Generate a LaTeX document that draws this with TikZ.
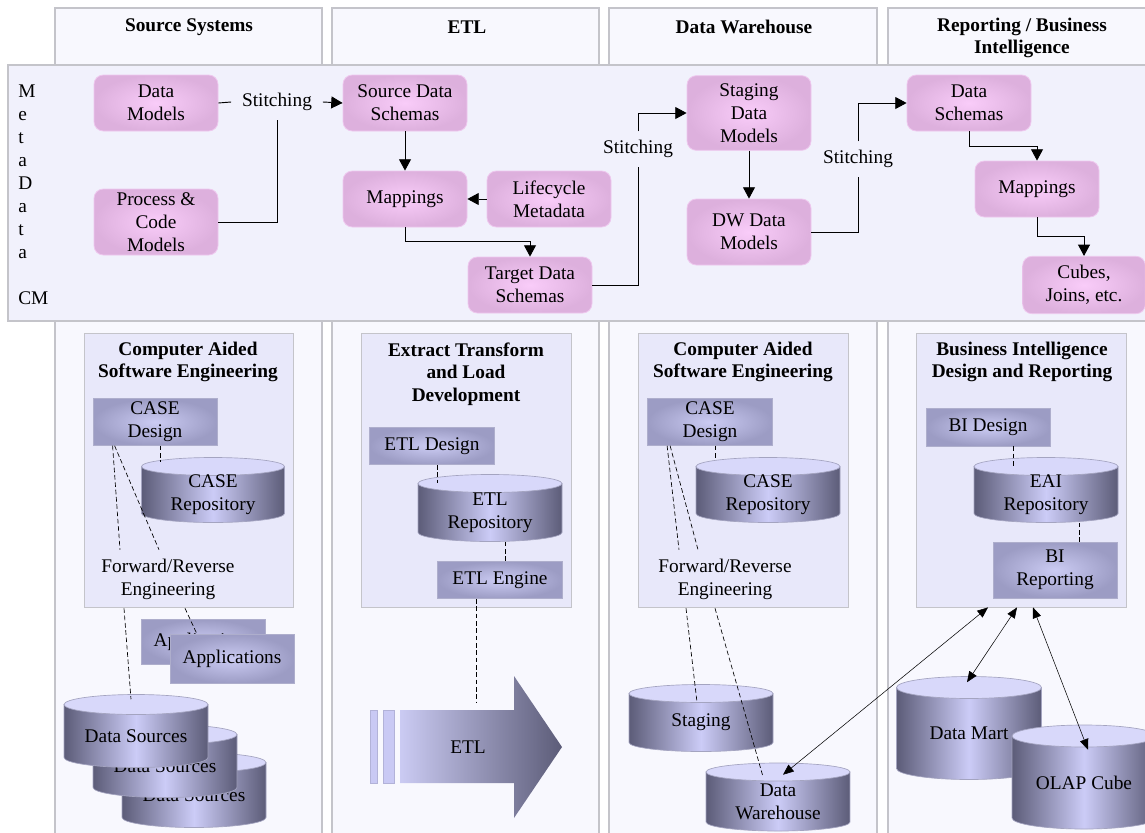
\documentclass[tikz,border=0pt]{standalone}
\usepackage{fontspec}
\setmainfont{Liberation Serif}
\usetikzlibrary{arrows.meta,calc}

\definecolor{colfill}{HTML}{F8F8FE}
\definecolor{framegray}{HTML}{C4C4CA}
\definecolor{bandfill}{HTML}{F1F1FC}
\definecolor{innerfill}{HTML}{E8E8FA}
\definecolor{pinkin}{HTML}{F9CCF9}
\definecolor{pinkout}{HTML}{DDB0DD}
\definecolor{pinkedge}{HTML}{EEC8EE}
\definecolor{toolin}{HTML}{CBCBF3}
\definecolor{toolout}{HTML}{9C9CC4}
\definecolor{tooledge}{HTML}{AEAECC}
\definecolor{cyldark}{HTML}{5C5C78}
\definecolor{cyllight}{HTML}{CCCCF7}
\definecolor{cyltop}{HTML}{D8D8FA}
\definecolor{cylline}{HTML}{A4A4C0}
\definecolor{barfill}{HTML}{C9C9F4}
\definecolor{baredge}{HTML}{B2B2D8}

\tikzset{
  colframe/.style={draw=framegray, fill=colfill, line width=0.8pt},
  bandframe/.style={draw=framegray, fill=bandfill, line width=0.8pt},
  innerframe/.style={draw=framegray, fill=innerfill, line width=0.6pt},
  colhead/.style={font=\fontsize{14.5}{17}\selectfont\bfseries, align=center, inner sep=0pt},
  metabox/.style={rounded corners=7pt, inner color=pinkin, outer color=pinkout, draw=pinkedge, line width=0.6pt, align=center, inner sep=0pt},
  toolbox/.style={inner color=toolin, outer color=toolout, draw=tooledge, line width=0.6pt, align=center, inner sep=0pt},
  txt/.style={align=center, inner sep=0pt},
  stitchlabel/.style={fill=bandfill, inner xsep=8pt, inner ysep=6.5pt, text height=10pt, text depth=3pt},
  flowarrow/.style={draw=black, line width=0.7pt, -{Triangle[length=8.5pt,width=9pt]}},
  flowline/.style={draw=black, line width=0.7pt},
  dashlink/.style={draw=black, line width=0.5pt, dash pattern=on 3.5pt off 2pt},
  biarrow/.style={draw=black, line width=0.4pt, {Triangle[length=8pt,width=6.5pt]}-{Triangle[length=8pt,width=6.5pt]}},
  barbox/.style={fill=barfill, draw=baredge, line width=0.5pt},
}

% database drum: name, centre x, centre y, width, height, cap radius, text
\newcommand\dbcyl[7]{%
  \path[left color=cyldark, right color=cyldark, middle color=cyllight, draw=cylline, line width=0.5pt]
    (#2-#4/2, #3-#5/2+#6) -- (#2-#4/2, #3+#5/2-#6)
    arc[start angle=180, end angle=0, x radius=#4/2, y radius=#6]
    -- (#2+#4/2, #3-#5/2+#6) -- cycle;
  \path[fill=cyltop, draw=cylline, line width=0.5pt]
    (#2, #3-#5/2+#6) ellipse[x radius=#4/2, y radius=#6];
  \node[minimum width={#4*0.75pt}, minimum height={#5*0.75pt}, inner sep=0pt] (#1) at (#2,#3) {};
  \node[txt] (#1-text) at (#2, #3+#6/2) {#7};
}

\begin{document}
\begin{tikzpicture}[x=0.75pt, y=-0.75pt, font=\fontsize{14.5}{17.25}\selectfont]
\useasboundingbox (0,0) rectangle (1145,832);
\clip (0,0) rectangle (1145,832);

% swimlane columns
\path[colframe] (55,8) rectangle (322,850);
\path[colframe] (332,8) rectangle (599,850);
\path[colframe] (609,8) rectangle (877,850);
\path[colframe] (888,8) rectangle (1160,850);

\node[colhead] (h1) at (189,27) {Source Systems};
\node[colhead] (h2) at (467,27) {ETL};
\node[colhead] (h3) at (744,27) {Data Warehouse};
\node[colhead] (h4) at (1022,38) {Reporting / Business\\Intelligence};

% metadata band
\path[bandframe] (8,65) rectangle (1160,321);
\node[anchor=west, align=left, inner sep=0pt] (mdcm) at (18,195) {M\\e\\t\\a\\D\\a\\t\\a\\[17.25pt]CM};

% metadata objects
\node[metabox, minimum width=93pt, minimum height=42pt] (dmod) at (156,103) {Data\\Models};
\node[metabox, minimum width=93pt, minimum height=49.5pt] (pcm) at (156,222) {Process \&\\Code\\Models};
\node[metabox, minimum width=93pt, minimum height=42pt] (sds) at (405,103) {Source Data\\Schemas};
\node[metabox, minimum width=93pt, minimum height=42pt] (map1) at (405,199) {Mappings};
\node[metabox, minimum width=93pt, minimum height=42pt] (lcm) at (549,199) {Lifecycle\\Metadata};
\node[metabox, minimum width=93pt, minimum height=42pt] (tds) at (530,285) {Target Data\\Schemas};
\node[metabox, minimum width=93pt, minimum height=56pt] (sdm) at (749,113) {Staging\\Data\\Models};
\node[metabox, minimum width=93pt, minimum height=49.5pt] (dwm) at (749,232) {DW Data\\Models};
\node[metabox, minimum width=93pt, minimum height=42pt] (dsch) at (969,103) {Data\\Schemas};
\node[metabox, minimum width=93pt, minimum height=42pt] (map2) at (1037,189) {Mappings};
\node[metabox, minimum width=92pt, minimum height=43pt] (cub) at (1084,285) {Cubes,\\Joins, etc.};

% stitching labels
\node[stitchlabel] (st1) at (277,102) {Stitching};
\node[stitchlabel] (st2) at (638,149) {Stitching};
\node[stitchlabel] (st3) at (858,159) {Stitching};

% metadata flow
\draw[flowline] (dmod.east) -- (st1.west);
\draw[flowarrow] (st1.east) -- (sds.west);
\draw[flowline] (pcm.east) -| (st1.south);
\draw[flowarrow] (sds.south) -- (map1.north);
\draw[flowarrow] (lcm.west) -- (map1.east);
\draw[flowarrow] (map1.south) -- ++(0,14) -| (tds.north);
\draw[flowline] (tds.east) -| (st2.south);
\draw[flowarrow] (st2.north) |- (sdm.west);
\draw[flowarrow] (sdm.south) -- (dwm.north);
\draw[flowline] (dwm.east) -| (st3.south);
\draw[flowarrow] (st3.north) |- (dsch.west);
\draw[flowarrow] (dsch.south) -- ++(0,15) -| (map2.north);
\draw[flowarrow] (map2.south) -- ++(0,19) -| (cub.north);

% tool frames
\path[innerframe] (84,333) rectangle (293,607);
\path[innerframe] (361,333) rectangle (571,607);
\path[innerframe] (638,333) rectangle (848,607);
\path[innerframe] (916,333) rectangle (1126,607);

\node[colhead] (t1) at (188,362) {Computer Aided\\Software Engineering};
\node[colhead] (t2) at (466,374) {Extract Transform\\and Load\\Development};
\node[colhead] (t3) at (743,362) {Computer Aided\\Software Engineering};
\node[colhead] (t4) at (1022,362) {Business Intelligence\\Design and Reporting};

% source systems
\node[toolbox, minimum width=93pt, minimum height=35pt] (cd1) at (155,422) {CASE\\Design};
\dbcyl{repo1}{213}{490}{143}{65}{9}{CASE\\Repository}
\node[txt, minimum width=100pt, minimum height=43.5pt] (fr1) at (168,579) {Forward/Reverse\\Engineering};
\node[toolbox, minimum width=93pt, minimum height=34pt] (app1) at (203,642) {Applications};
\node[toolbox, minimum width=93pt, minimum height=36.75pt] (app2) at (232,659) {Applications};
\dbcyl{ds3}{194}{790}{144}{75}{10}{Data Sources}
\dbcyl{ds2}{165}{761}{144}{73}{10}{Data Sources}
\dbcyl{ds1}{136}{731}{144}{73}{10}{Data Sources}

\draw[dashlink] ($(cd1.south)+(5,0)$) -- ($(repo1.north)+(-53,5)$);
\draw[dashlink] ($(cd1.south west)+(20,0)$) -- ($(fr1.north)+(-48,0)$);
\draw[dashlink] ($(cd1.south west)+(22,0)$) -- ($(fr1.north)+(-9,0)$);
\draw[dashlink] ($(fr1.south)+(-44,0)$) -- ($(ds1.north)+(-5,5)$);
\draw[dashlink] ($(fr1.south)+(17,0)$) -- ($(app2.north)+(-35,0)$);

% ETL
\node[toolbox, minimum width=93.75pt, minimum height=28pt] (etd) at (432,446) {ETL Design};
\dbcyl{etlr}{490}{508}{144}{67}{9}{ETL\\Repository}
\node[toolbox, minimum width=93.75pt, minimum height=28pt] (ete) at (500,580) {ETL Engine};
\path[barbox] (370,710) rectangle (377,783);
\path[barbox] (383,710) rectangle (394,783);
\shade[left color=toolin, right color=cyldark]
  (400,710) -- (514,710) -- (514,676) -- (562,747) -- (514,818) -- (514,783) -- (400,783) -- cycle;
\node[txt] (etlarrow) at (468,747) {ETL};
\coordinate (etltop) at (476,703);

\draw[dashlink] ($(etd.south)+(5,0)$) -- ($(etlr.north)+(-53,9)$);
\draw[dashlink] ($(etlr.south)+(15,0)$) -- ($(ete.north)+(5,0)$);
\draw[dashlink] ($(ete.south)+(-24,0)$) -- (etltop);

% data warehouse
\node[toolbox, minimum width=93.75pt, minimum height=35pt] (cd3) at (710,422) {CASE\\Design};
\dbcyl{repo3}{768}{490}{144}{65}{9}{CASE\\Repository}
\node[txt, minimum width=100pt, minimum height=43.5pt] (fr3) at (725,579) {Forward/Reverse\\Engineering};
\dbcyl{stg}{701}{718}{144}{67}{9}{Staging}
\dbcyl{dw}{778}{797}{144}{68}{9}{Data\\Warehouse}

\draw[dashlink] ($(cd3.south)+(5,0)$) -- ($(repo3.north)+(-53,2)$);
\draw[dashlink] ($(cd3.south west)+(20,0)$) -- ($(fr3.north)+(-46,0)$);
\draw[dashlink] ($(cd3.south west)+(23,0)$) -- ($(fr3.north)+(-27,0)$);
\draw[dashlink] ($(fr3.south)+(-39,0)$) -- ($(stg.north)+(-4,18)$);
\draw[dashlink] ($(fr3.south)+(-10,0)$) -- ($(dw.north)+(-15,14)$);

% reporting / BI
\node[toolbox, minimum width=93pt, minimum height=28.5pt] (bid) at (988,427) {BI Design};
\dbcyl{eair}{1046}{490}{144}{65}{9}{EAI\\Repository}
\node[toolbox, minimum width=93pt, minimum height=42pt] (bir) at (1055,570) {BI\\Reporting};
\dbcyl{dm}{969}{728}{145}{103}{11}{Data Mart}
\dbcyl{olap}{1084}{777}{144}{104}{11}{OLAP Cube}

\draw[dashlink] ($(bid.south)+(25,0)$) -- ($(eair.north)+(-33,9)$);
\draw[dashlink] ($(eair.south)+(33,0)$) -- ($(bir.north)+(24,0)$);

\draw[biarrow] ($(bir.south)+(-67,9)$) -- ($(dw.north)+(5,12)$);
\draw[biarrow] ($(bir.south)+(-38,9)$) -- ($(dm.north)+(-2,6)$);
\draw[biarrow] ($(bir.south)+(-22,9)$) -- ($(olap.north)+(4,25)$);
\end{tikzpicture}
\end{document}
